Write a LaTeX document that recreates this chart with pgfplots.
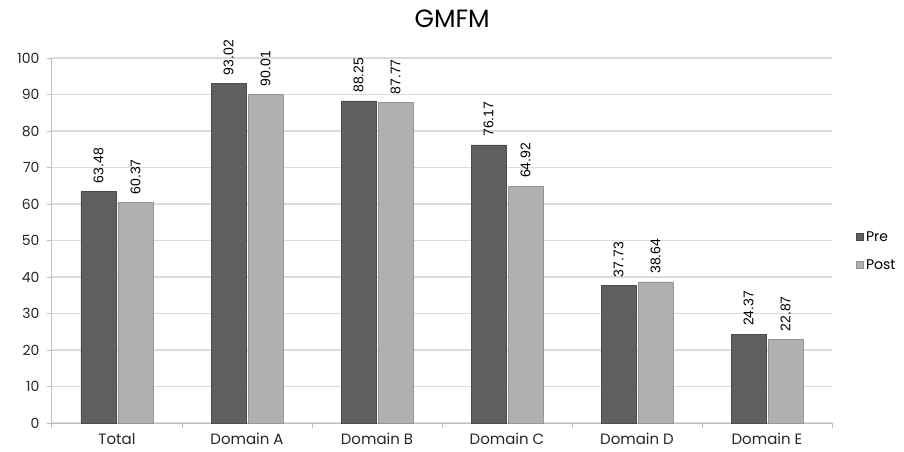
\documentclass[border=0pt]{standalone}
\usepackage{pgfplots}
\pgfplotsset{compat=1.18}
\usepackage{fontspec}
\setmainfont{Poppins}
\newfontfamily\arialf{Liberation Sans}
\definecolor{darkbar}{HTML}{5F5F5F}
\definecolor{lightbar}{HTML}{B0B0B0}
\begin{document}
\begin{tikzpicture}[x=1pt,y=1pt]
\useasboundingbox (-52,-28) rectangle (852,423);
\begin{axis}[
  at={(0,0)}, anchor=south west, scale only axis,
  width=780pt, height=365pt,
  xmin=-0.5, xmax=5.5, ymin=0, ymax=100,
  ytick={0,10,...,100},
  xtick={-0.5,0.5,...,5.5},
  x tick label as interval,
  xticklabels={Total,Domain A,Domain B,Domain C,Domain D,Domain E},
  axis x line*=bottom, axis y line*=left,
  axis line style={draw=black!25, line width=1pt},
  ymajorgrids, major grid style={draw=black!14, line width=1.6pt},
  tick align=outside, major tick length=5pt,
  tick style={draw=black!25, line width=1pt},
  /pgf/number format/assume math mode=true,
  yticklabel style={xshift=-4pt, font=\fontsize{14}{16}\selectfont, text=black!85},
  xticklabel style={yshift=-2pt, font=\fontsize{15}{17}\selectfont, text=black!85},
  title={GMFM},
  title style={at={(0.513,1.09)}, anchor=center, font=\fontsize{25}{28}\selectfont},
  ybar, bar width=35pt,
  nodes near coords,
  every node near coord/.append style={rotate=90, anchor=west, inner sep=2pt, xshift=6pt,
     /pgf/number format/fixed, /pgf/number format/fixed zerofill,
     /pgf/number format/precision=2, /pgf/number format/assume math mode=true,
     font=\arialf\fontsize{14}{14}\selectfont, text=black},
  legend style={draw=none, at={(1.03,0.47)}, anchor=west, font=\fontsize{14}{16}\selectfont,
     row sep=13pt, inner sep=0pt, nodes={inner xsep=3pt}},
  legend cell align=left,
  legend image code/.code={\fill[#1] (0pt,-3pt) rectangle (7pt,4pt);},
]
\addplot[fill=darkbar, draw=darkbar!80!black, line width=0.5pt, bar shift=-18.5pt]
  coordinates {(0,63.48) (1,93.02) (2,88.25) (3,76.17) (4,37.73) (5,24.37)};
\addplot[fill=lightbar, draw=lightbar!85!black, line width=0.5pt, bar shift=18.5pt]
  coordinates {(0,60.37) (1,90.01) (2,87.77) (3,64.92) (4,38.64) (5,22.87)};
\legend{Pre,Post}
\end{axis}
\end{tikzpicture}
\end{document}
